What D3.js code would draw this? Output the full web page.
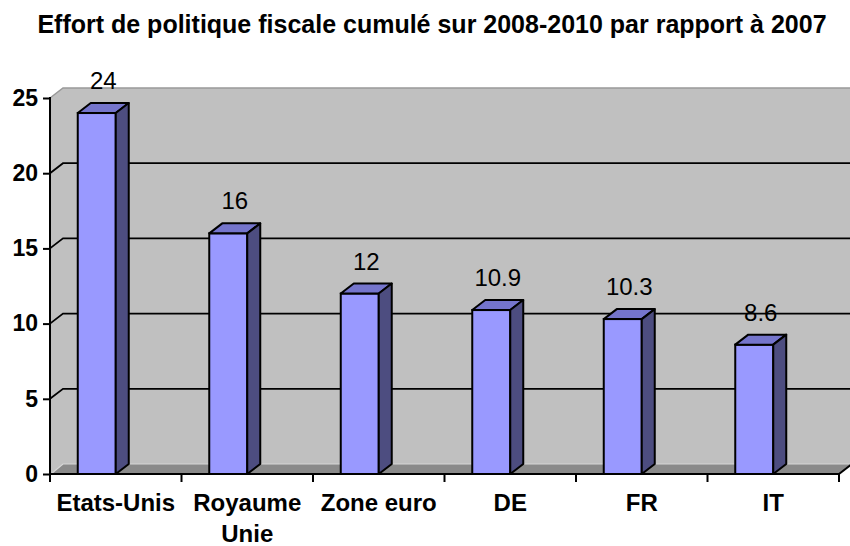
<!DOCTYPE html>
<html>
<head>
<meta charset="utf-8">
<script src="https://cdn.jsdelivr.net/npm/d3@7"></script>
<style>
    html, body { margin: 0; padding: 0; background: #fff; }
    svg { display: block; font-family: Arial, 'Liberation Sans', sans-serif; }
</style>
</head>
<body>
<svg id="chart" width="850" height="546"></svg>
<script>
// 图表数据
const title = 'Effort de politique fiscale cumulé sur 2008-2010 par rapport à 2007';
const categories = ['Etats-Unis', 'Royaume Unie', 'Zone euro', 'DE', 'FR', 'IT'];
const categoryLines = [['Etats-Unis'], ['Royaume', 'Unie'], ['Zone euro'], ['DE'], ['FR'], ['IT']];
const values = [24, 16, 12, 10.9, 10.3, 8.6];
const valueLabels = ['24', '16', '12', '10.9', '10.3', '8.6'];
const yTicks = [0, 5, 10, 15, 20, 25];
const gridValues = [5, 10, 15, 20];

// 画布尺寸及 3D 深度偏移
const chartW = 850;
const axL = 50, axR = 839, axB = 474, axT = 98;
const dx = 13, dy = -10;
const barW = 38;

const svg = d3.select('#chart');

// 比例尺
const x = d3.scaleBand().domain(categories).range([axL, axR]);
const y = d3.scaleLinear().domain([0, 25]).range([axB, axT]);

// 点数组转路径
const poly = pts => 'M' + pts.map(p => p.join(',')).join('L') + 'Z';

// 标题
svg.append('text')
    .attr('x', 432)
    .attr('y', 33)
    .attr('text-anchor', 'middle')
    .attr('font-size', 25)
    .attr('font-weight', 'bold')
    .text(title);

// 背墙
svg.append('rect')
    .attr('x', axL + dx)
    .attr('y', axT + dy)
    .attr('width', axR - axL + 2)
    .attr('height', axB - axT)
    .attr('fill', '#c0c0c0');

// 侧墙
svg.append('path')
    .attr('d', poly([[axL, axT], [axL + dx, axT + dy], [axL + dx, axB + dy], [axL, axB]]))
    .attr('fill', '#c0c0c0');

// 墙顶边线
svg.append('path')
    .attr('d', `M${axL},${axT}L${axL + dx},${axT + dy}L${chartW + 2},${axT + dy}`)
    .attr('fill', 'none')
    .attr('stroke', '#999')
    .attr('stroke-width', 1.5);

// 地板
svg.append('path')
    .attr('d', poly([[axL, axB], [axR, axB], [axR + dx, axB + dy], [axL + dx, axB + dy]]))
    .attr('fill', '#8a8a8a');

// 地板后边线（浅色）
svg.append('path')
    .attr('d', `M${axL + 1},${axB}L${axL + dx},${axB + dy}L${axR + dx},${axB + dy}`)
    .attr('fill', 'none')
    .attr('stroke', '#d6d6d6')
    .attr('stroke-width', 1.2);

// 地板右边线
svg.append('line')
    .attr('x1', axR).attr('y1', axB)
    .attr('x2', axR + dx).attr('y2', axB + dy)
    .attr('stroke', '#000')
    .attr('stroke-width', 2);

// 网格线
svg.append('g')
    .selectAll('path')
    .data(gridValues)
    .join('path')
    .attr('d', v => `M${axL},${y(v)}L${axL + dx},${y(v) + dy}L${chartW + 2},${y(v) + dy}`)
    .attr('fill', 'none')
    .attr('stroke', '#000')
    .attr('stroke-width', 1.8);

// Y 轴
const yAxis = svg.append('g')
    .attr('transform', `translate(${axL},0)`)
    .call(d3.axisLeft(y).tickValues(yTicks).tickSize(7).tickSizeOuter(0).tickPadding(5).tickFormat(d3.format('d')));
yAxis.select('.domain').remove();
yAxis.selectAll('.tick line').attr('stroke', '#000').attr('stroke-width', 2);
yAxis.selectAll('.tick text')
    .attr('font-size', 23)
    .attr('font-weight', 'bold')
    .attr('font-family', 'Arial, Liberation Sans, sans-serif')
    .attr('fill', '#000');
svg.append('line')
    .attr('x1', axL).attr('y1', axT - 1)
    .attr('x2', axL).attr('y2', axB + 8)
    .attr('stroke', '#000')
    .attr('stroke-width', 2);

// X 轴
svg.append('line')
    .attr('x1', axL).attr('y1', axB)
    .attr('x2', axR).attr('y2', axB)
    .attr('stroke', '#000')
    .attr('stroke-width', 2);
const bounds = categories.map(c => x(c)).concat([axR]);
svg.append('g')
    .selectAll('line')
    .data(bounds)
    .join('line')
    .attr('x1', d => d).attr('x2', d => d)
    .attr('y1', axB).attr('y2', axB + 8)
    .attr('stroke', '#000')
    .attr('stroke-width', 2);

// 类别标签
const catText = svg.append('g')
    .selectAll('text')
    .data(categories)
    .join('text')
    .attr('x', c => x(c) + x.bandwidth() / 2)
    .attr('y', 511)
    .attr('text-anchor', 'middle')
    .attr('font-size', 24)
    .attr('font-weight', 'bold');
catText.selectAll('tspan')
    .data((c, i) => categoryLines[i])
    .join('tspan')
    .attr('x', function() { return d3.select(this.parentNode).attr('x'); })
    .attr('dy', (d, i) => i === 0 ? 0 : 31)
    .text(d => d);

// 柱子
const bars = svg.append('g')
    .selectAll('g')
    .data(values)
    .join('g');
const bx = (i) => x(categories[i]) + x.bandwidth() / 2 - barW;

// 正面
bars.append('rect')
    .attr('x', (d, i) => bx(i))
    .attr('y', d => y(d))
    .attr('width', barW)
    .attr('height', d => axB - y(d))
    .attr('fill', '#9999ff')
    .attr('stroke', '#000')
    .attr('stroke-width', 2);

// 顶面
bars.append('path')
    .attr('d', (d, i) => {
        let x0 = bx(i), y0 = y(d);
        return poly([[x0, y0], [x0 + dx, y0 + dy], [x0 + barW + dx, y0 + dy], [x0 + barW, y0]]);
    })
    .attr('fill', '#7575cc')
    .attr('stroke', '#000')
    .attr('stroke-width', 2)
    .attr('stroke-linejoin', 'round');

// 侧面
bars.append('path')
    .attr('d', (d, i) => {
        let x0 = bx(i) + barW, y0 = y(d);
        return poly([[x0, y0], [x0 + dx, y0 + dy], [x0 + dx, axB + dy], [x0, axB]]);
    })
    .attr('fill', '#4d4d80')
    .attr('stroke', '#000')
    .attr('stroke-width', 2)
    .attr('stroke-linejoin', 'round');

// 数值标签
bars.append('text')
    .attr('x', (d, i) => bx(i) + barW / 2 + dx / 2)
    .attr('y', d => y(d) + dy - 14)
    .attr('text-anchor', 'middle')
    .attr('font-size', 24)
    .attr('fill', '#000')
    .text((d, i) => valueLabels[i]);
</script>
</body>
</html>
